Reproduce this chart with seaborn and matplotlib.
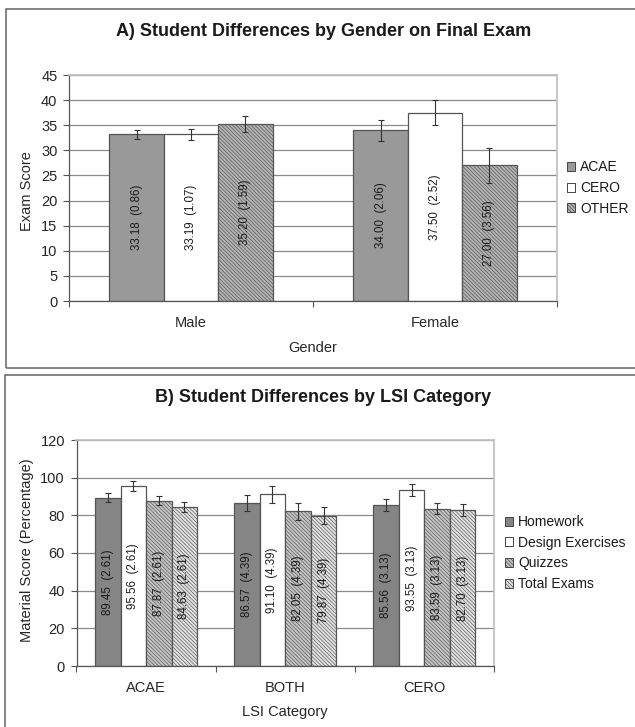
import numpy as np
import pandas as pd
import matplotlib
matplotlib.use("Agg")
import matplotlib.pyplot as plt
from matplotlib.patches import Patch, Rectangle
import seaborn as sns

# --- panel A: exam score by gender ---
genders = ["Male", "Female"]
groups_a = ["ACAE", "CERO", "OTHER"]
acae_a = [33.18, 34.00]
cero_a = [33.19, 37.50]
other_a = [35.20, 27.00]
acae_a_se = [0.86, 2.06]
cero_a_se = [1.07, 2.52]
other_a_se = [1.59, 3.56]

# --- panel B: material score by LSI category ---
lsi = ["ACAE", "BOTH", "CERO"]
materials = ["Homework", "Design Exercises", "Quizzes", "Total Exams"]
homework = [89.45, 86.57, 85.56]
design = [95.56, 91.10, 93.55]
quizzes = [87.87, 82.05, 83.59]
exams = [84.63, 79.87, 82.70]
lsi_se = [2.61, 4.39, 3.13]

W, H = 635, 727
HATCH = "\\" * 9

sns.set_theme(style="white")
plt.rcParams["font.family"] = ["Liberation Sans", "DejaVu Sans"]
plt.rcParams["hatch.linewidth"] = 0.45
plt.rcParams["axes.edgecolor"] = "#333333"
plt.rcParams["text.color"] = "#1a1a1a"


def ax_rect(left, right, top, bottom):
    return [left / W, 1 - bottom / H, (right - left) / W, (bottom - top) / H]


def long_df(cats, names, series, errs):
    rows = []
    for name, vals, err in zip(names, series, errs):
        for c, v, e in zip(cats, vals, err):
            rows.append({"cat": c, "series": name, "value": v, "se": e})
    return pd.DataFrame(rows)


def set_hatch(patch, hatch, hcolor):
    if not hatch:
        return
    patch.set_hatch(hatch)
    if hasattr(patch, "set_hatchcolor"):
        patch.set_hatchcolor(hcolor)


def draw_panel(ax, df, cats, names, colors, hatches, hcolors, width, ymax,
               ystep, lab_fmt):
    sns.barplot(data=df, x="cat", y="value", hue="series", order=cats,
                hue_order=names, palette=colors, width=width, gap=0,
                errorbar=None, edgecolor="#555555", linewidth=0.9,
                legend=False, ax=ax, zorder=2)
    for name, cont, hatch, hc in zip(names, ax.containers, hatches, hcolors):
        sub = df[df["series"] == name].set_index("cat").loc[cats]
        xs, ys = [], []
        for bar in cont:
            set_hatch(bar, hatch, hc)
            xs.append(bar.get_x() + bar.get_width() / 2)
            ys.append(bar.get_height())
        ax.errorbar(xs, ys, yerr=sub["se"].values, fmt="none", ecolor="#333333",
                    elinewidth=0.8, capsize=2.0, capthick=0.8, zorder=4)
        labels = [lab_fmt.format(v, e) for v, e in zip(sub["value"], sub["se"])]
        ax.bar_label(cont, labels=labels, label_type="center", rotation=90,
                     fontsize=8.3, color="#1a1a1a")

    ax.set_ylim(0, ymax)
    ax.set_yticks(np.arange(0, ymax + 1, ystep))
    ax.set_xlim(-0.5, len(cats) - 0.5)
    ax.yaxis.grid(True, color="#8a8a8a", linewidth=0.9)
    ax.set_axisbelow(True)
    for s in ["top", "right"]:
        ax.spines[s].set_color("#c0c0c0")
    for s in ["left", "bottom"]:
        ax.spines[s].set_color("#555555")
        ax.spines[s].set_linewidth(0.9)
    ax.set_xticks(np.arange(len(cats) + 1) - 0.5, minor=True)
    ax.tick_params(axis="x", which="major", length=0, pad=10.5, labelsize=10.5)
    ax.tick_params(axis="x", which="minor", length=4, width=0.8,
                   color="#555555", direction="out", bottom=True)
    ax.tick_params(axis="y", length=4, width=0.8, color="#555555",
                   direction="out", left=True, pad=4.3, labelsize=10.5)


def add_legend(ax, names, colors, hatches, hcolors, x, y):
    handles = []
    for c, h, hc in zip(colors, hatches, hcolors):
        p = Patch(facecolor=c, edgecolor="#444444", linewidth=0.7)
        set_hatch(p, h, hc)
        handles.append(p)
    ax.legend(handles, names, loc="center left", bbox_to_anchor=(x, y),
              frameon=False, fontsize=10, handlelength=0.6, handleheight=0.6,
              handletextpad=0.35, labelspacing=0.48, borderpad=0,
              borderaxespad=0)


fig = plt.figure(figsize=(W / 100, H / 100), dpi=100)

# outer frames of the two panels
fig.add_artist(Rectangle((6 / W, 1 - 368 / H), 1.0, (368 - 9) / H,
                         transform=fig.transFigure, fill=False,
                         edgecolor="#707070", linewidth=1.2))
fig.add_artist(Rectangle((5 / W, -0.05), 1.0, 1 - 375 / H + 0.05,
                         transform=fig.transFigure, fill=False,
                         edgecolor="#707070", linewidth=1.2))

# panel A
ax1 = fig.add_axes(ax_rect(69, 557, 75, 301))
df_a = long_df(genders, groups_a, [acae_a, cero_a, other_a],
               [acae_a_se, cero_a_se, other_a_se])
colors_a = ["#999999", "#ffffff", "#b2b2b2"]
hatches_a = [None, None, HATCH]
hcolors_a = [None, None, "#8c8c8c"]
draw_panel(ax1, df_a, genders, groups_a, colors_a, hatches_a, hcolors_a,
           0.67, 45, 5, "{:.2f}  ({:.2f})")
ax1.set_xlabel("Gender", fontsize=10.5)
ax1.set_ylabel("Exam Score", fontsize=10.5)
ax1.xaxis.set_label_coords(0.5, -(348 - 301) / 226)
ax1.xaxis.label.set_va("center")
ax1.yaxis.set_label_coords(-42 / 488, (301 - 191) / 226)
ax1.yaxis.label.set_va("center")
add_legend(ax1, groups_a, colors_a, hatches_a, hcolors_a, (567 - 69) / 488, 0.5)
fig.text(323.5 / W, 1 - 32 / H, "A) Student Differences by Gender on Final Exam",
         ha="center", va="center", fontsize=13, fontweight="bold")

# panel B
ax2 = fig.add_axes(ax_rect(76.5, 494, 440, 666))
df_b = long_df(lsi, materials, [homework, design, quizzes, exams],
               [lsi_se] * 4)
colors_b = ["#858585", "#ffffff", "#c4c4c4", "#e2e2e2"]
hatches_b = [None, None, HATCH, HATCH]
hcolors_b = [None, None, "#9a9a9a", "#bdbdbd"]
draw_panel(ax2, df_b, lsi, materials, colors_b, hatches_b, hcolors_b,
           0.734, 120, 20, "{:.2f}  ({:.2f})")
ax2.set_xlabel("LSI Category", fontsize=10.5)
ax2.set_ylabel("Material Score (Percentage)", fontsize=10.5)
ax2.xaxis.set_label_coords(0.5, -(712 - 666) / 226)
ax2.xaxis.label.set_va("center")
ax2.yaxis.set_label_coords(-49.5 / 417.5, (666 - 550) / 226)
ax2.yaxis.label.set_va("center")
add_legend(ax2, materials, colors_b, hatches_b, hcolors_b, (505 - 76.5) / 417.5,
           (666 - 553) / 226)
fig.text(323 / W, 1 - 397 / H, "B) Student Differences by LSI Category",
         ha="center", va="center", fontsize=13, fontweight="bold")

fig.savefig("out.png", dpi=100)
